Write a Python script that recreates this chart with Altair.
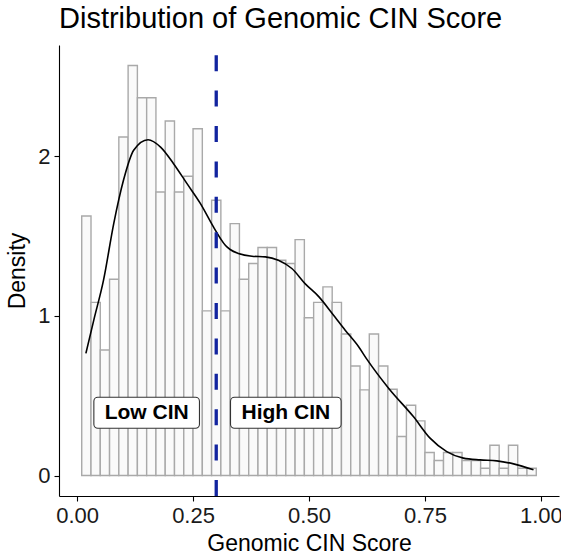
import altair as alt
import numpy as np
import pandas as pd

FONT = "Liberation Sans"

# Histogram: bins of width 0.02 starting at 0.01, heights on the density scale
BIN_START = 0.01
BIN_WIDTH = 0.02
hist_density = [
    1.625, 1.084, 0.786, 1.229, 2.119, 2.567, 2.365, 2.365, 1.775, 2.219,
    1.775, 1.873, 2.171, 1.031, 1.723, 1.031, 1.577, 1.229, 1.327, 1.427,
    1.427, 1.348, 1.327, 1.477, 0.988, 1.084, 1.181, 1.084, 0.886, 0.686,
    0.536, 0.886, 0.686, 0.540, 0.244, 0.440, 0.342, 0.144, 0.094, 0.144,
    0.144, 0.094, 0.094, 0.046, 0.190, 0.046, 0.190, 0.046, 0.046,
]

# Kernel density estimate of the score
kde_x = [0.019, 0.036, 0.057, 0.079, 0.100, 0.122, 0.153, 0.180, 0.208, 0.237,
         0.266, 0.294, 0.309, 0.320, 0.330, 0.348, 0.377, 0.406, 0.434, 0.463,
         0.492, 0.521, 0.550, 0.578, 0.607, 0.625, 0.672, 0.725, 0.761, 0.797,
         0.833, 0.869, 0.905, 0.941, 0.984]
kde_y = [0.765, 0.973, 1.223, 1.577, 1.848, 2.036, 2.102, 2.056, 1.952, 1.827,
         1.702, 1.556, 1.484, 1.440, 1.415, 1.390, 1.373, 1.369, 1.348, 1.296,
         1.200, 1.120, 1.015, 0.910, 0.806, 0.727, 0.545, 0.369, 0.234, 0.150,
         0.109, 0.098, 0.092, 0.073, 0.036]

threshold = 0.3
group_labels = ["Low CIN", "High CIN"]
label_x = [0.15, 0.45]
label_y = [0.393, 0.393]

# Plot geometry
W, H = 500, 451
X_DOM = [-0.039, 1.039]
Y_DOM = [-0.128, 2.695]
px_per_x = W / (X_DOM[1] - X_DOM[0])
px_per_y = H / (Y_DOM[1] - Y_DOM[0])

lo = BIN_START + BIN_WIDTH * np.arange(len(hist_density))
hist_df = pd.DataFrame({"lo": lo, "hi": lo + BIN_WIDTH, "density": hist_density})
kde_df = pd.DataFrame({"score": kde_x, "density": kde_y})

# label boxes sized in pixels around each label centre
box_half_w = [52.8, 55.3]
box_half_h = 15.5
lab_df = pd.DataFrame({
    "label": group_labels,
    "x": label_x,
    "y": label_y,
    "x0": [cx - hw / px_per_x for cx, hw in zip(label_x, box_half_w)],
    "x1": [cx + hw / px_per_x for cx, hw in zip(label_x, box_half_w)],
    "y0": [cy - box_half_h / px_per_y for cy in label_y],
    "y1": [cy + box_half_h / px_per_y for cy in label_y],
})

x_scale = alt.Scale(domain=X_DOM, nice=False, zero=False)
y_scale = alt.Scale(domain=Y_DOM, nice=False, zero=False)

x_axis = alt.Axis(values=[0, 0.25, 0.5, 0.75, 1.0], format=".2f",
                  title="Genomic CIN Score")
y_axis = alt.Axis(values=[0, 1, 2], format="d", title="Density")

bars = alt.Chart(hist_df).mark_rect(
    fill="#fafafa", stroke="#a9a9a9", strokeWidth=1.4
).encode(
    x=alt.X("lo:Q", scale=x_scale, axis=x_axis),
    x2="hi:Q",
    y=alt.Y("density:Q", scale=y_scale, axis=y_axis),
    y2=alt.datum(0),
)

curve = alt.Chart(kde_df).mark_line(
    color="black", strokeWidth=1.6, interpolate="monotone"
).encode(
    x=alt.X("score:Q", scale=x_scale),
    y=alt.Y("density:Q", scale=y_scale),
)

cutoff = alt.Chart(pd.DataFrame({"t": [threshold]})).mark_rule(
    color="#12249f", strokeWidth=3.3, strokeDash=[16, 19.4]
).encode(
    x=alt.X("t:Q", scale=x_scale),
    y=alt.datum(Y_DOM[0]),
    y2=alt.datum(Y_DOM[1]),
)

boxes = alt.Chart(lab_df).mark_rect(
    fill="white", stroke="#333333", strokeWidth=1.1, cornerRadius=4
).encode(
    x=alt.X("x0:Q", scale=x_scale),
    x2="x1:Q",
    y=alt.Y("y0:Q", scale=y_scale),
    y2="y1:Q",
)

texts = alt.Chart(lab_df).mark_text(
    font=FONT, fontSize=21, fontWeight="bold", color="black", baseline="middle"
).encode(
    x=alt.X("x:Q", scale=x_scale),
    y=alt.Y("y:Q", scale=y_scale),
    text="label:N",
)

chart = alt.layer(bars, curve, cutoff, boxes, texts).properties(
    width=W,
    height=H,
    autosize="none",
    padding={"left": 59, "top": 45, "right": 2, "bottom": 59},
    title=alt.TitleParams(
        "Distribution of Genomic CIN Score", anchor="start", frame="group",
        font=FONT, fontSize=29, fontWeight="normal", color="black", offset=9,
    ),
).configure_view(stroke=None).configure_axis(
    grid=False,
    domainColor="black", domainWidth=1.1,
    tickColor="black", tickWidth=1.1, tickSize=5,
    labelFont=FONT, labelFontSize=22, labelColor="#1a1a1a", labelPadding=4,
    titleFont=FONT, titleFontSize=23, titleFontWeight="normal", titleColor="black",
).configure_axisX(titlePadding=6).configure_axisY(titlePadding=8)

chart.save("out.html", embed_options={"renderer": "svg", "actions": False})
